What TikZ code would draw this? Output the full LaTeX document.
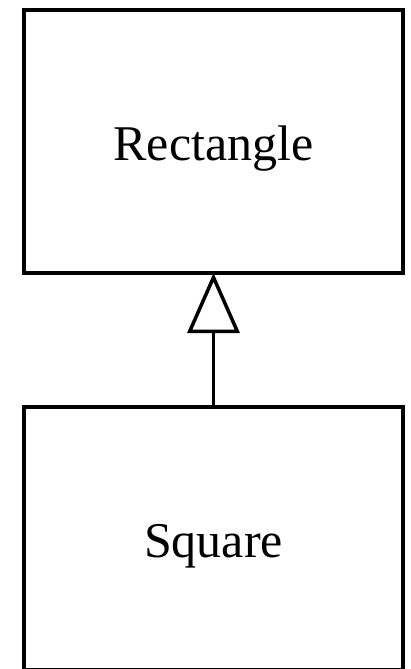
\documentclass[tikz,border=0pt]{standalone}
\usepackage{fontspec}
\setmainfont{Liberation Serif}
\usepackage{tikz}
\usetikzlibrary{positioning,arrows.meta}
\tikzstyle{classbox}=[draw,line width=4.5pt,outer sep=0pt,minimum width=379pt,minimum height=263pt,text height=41pt,text depth=3pt,font=\fontsize{50}{60}\selectfont]
\tikzstyle{inherit}=[line width=3.5pt,-{Triangle[open,length=60pt,width=52pt,line width=3.5pt]}]
\begin{document}
\begin{tikzpicture}
    \useasboundingbox (0,0) rectangle (410pt,-669pt);
    \node[classbox] (rect) at (213.5pt,-141.5pt) {Rectangle};
    \node[classbox,below=134pt of rect] (sq) {Square};
    \draw[inherit] (sq) -- (rect);
\end{tikzpicture}
\end{document}
